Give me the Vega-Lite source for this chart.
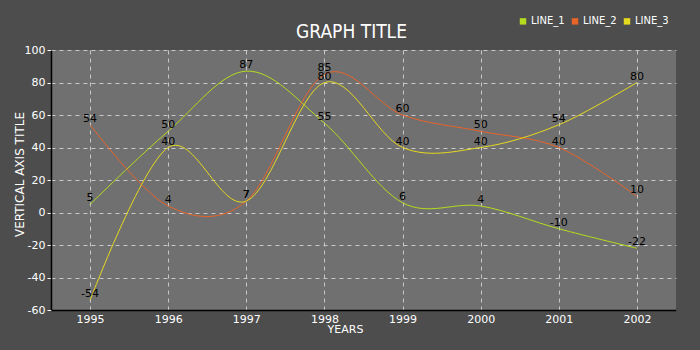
{
  "$schema": "https://vega.github.io/schema/vega-lite/v6.json",
  "autosize": "none",
  "width": 625,
  "height": 260,
  "padding": {"left": 51, "top": 50, "right": 24, "bottom": 40},
  "background": "#4d4d4d",
  "title": {
    "text": "GRAPH TITLE",
    "color": "#ffffff",
    "font": "DejaVu Sans Condensed, DejaVu Sans",
    "fontSize": 19,
    "fontWeight": "normal",
    "offset": 16,
    "dx": -12,
    "dy": 42
  },
  "data": {
    "values": [
      {"year": 1995, "series": "LINE_1", "value": 5},
      {"year": 1996, "series": "LINE_1", "value": 50},
      {"year": 1997, "series": "LINE_1", "value": 87},
      {"year": 1998, "series": "LINE_1", "value": 55},
      {"year": 1999, "series": "LINE_1", "value": 6},
      {"year": 2000, "series": "LINE_1", "value": 4},
      {"year": 2001, "series": "LINE_1", "value": -10},
      {"year": 2002, "series": "LINE_1", "value": -22},
      {"year": 1995, "series": "LINE_2", "value": 54},
      {"year": 1996, "series": "LINE_2", "value": 4},
      {"year": 1997, "series": "LINE_2", "value": 7},
      {"year": 1998, "series": "LINE_2", "value": 85},
      {"year": 1999, "series": "LINE_2", "value": 60},
      {"year": 2000, "series": "LINE_2", "value": 50},
      {"year": 2001, "series": "LINE_2", "value": 40},
      {"year": 2002, "series": "LINE_2", "value": 10},
      {"year": 1995, "series": "LINE_3", "value": -54},
      {"year": 1996, "series": "LINE_3", "value": 40},
      {"year": 1997, "series": "LINE_3", "value": 7},
      {"year": 1998, "series": "LINE_3", "value": 80},
      {"year": 1999, "series": "LINE_3", "value": 40},
      {"year": 2000, "series": "LINE_3", "value": 40},
      {"year": 2001, "series": "LINE_3", "value": 54},
      {"year": 2002, "series": "LINE_3", "value": 80}
    ]
  },
  "encoding": {
    "x": {
      "field": "year",
      "type": "quantitative",
      "scale": {"domain": [1994.5, 2002.5], "nice": false, "zero": false},
      "axis": {
        "title": "YEARS",
        "values": [1995, 1996, 1997, 1998, 1999, 2000, 2001, 2002],
        "format": "d",
        "ticks": false,
        "labelPadding": 3,
        "titleX": 294,
        "titleY": 22,
        "titleAlign": "center",
        "titleBaseline": "alphabetic"
      }
    },
    "y": {
      "field": "value",
      "type": "quantitative",
      "scale": {"domain": [-60, 100], "nice": false},
      "axis": {
        "title": "VERTICAL AXIS TITLE",
        "values": [-60, -40, -20, 0, 20, 40, 60, 80, 100],
        "labelExpr": "'' + datum.value",
        "ticks": true,
        "tickSize": 4,
        "tickColor": "#ffffff",
        "labelPadding": 2,
        "titleX": -32,
        "titleY": 124,
        "titleAngle": -90,
        "titleAlign": "center",
        "titleBaseline": "middle",
        "titleFontSize": 12
      }
    },
    "color": {
      "field": "series",
      "type": "nominal",
      "scale": {
        "domain": ["LINE_1", "LINE_2", "LINE_3"],
        "range": ["#b4dc1e", "#e8642a", "#e6da1e"]
      },
      "legend": {
        "title": null,
        "orient": "none",
        "legendX": 467,
        "legendY": -34,
        "direction": "horizontal",
        "symbolType": "square",
        "symbolSize": 6,
        "symbolStrokeWidth": 4,
        "symbolOpacity": 1,
        "labelColor": "#ffffff",
        "labelFont": "DejaVu Sans",
        "labelFontSize": 10,
        "columnPadding": 0,
        "labelOffset": 3
      }
    }
  },
  "layer": [
    {
      "mark": {"type": "line", "interpolate": "cardinal", "strokeWidth": 1}
    },
    {
      "mark": {
        "type": "text",
        "color": "#000000",
        "font": "DejaVu Sans",
        "fontSize": 11,
        "baseline": "middle",
        "dy": -6
      },
      "encoding": {
        "text": {"field": "value", "type": "nominal"},
        "color": {"value": "#000000"}
      }
    }
  ],
  "config": {
    "view": {"fill": "#707070", "stroke": null},
    "axis": {
      "domainColor": "#000000",
      "domainWidth": 1.5,
      "grid": true,
      "gridColor": "#c8c8c8",
      "gridDash": [4, 4],
      "gridWidth": 1,
      "labelColor": "#ffffff",
      "labelFont": "DejaVu Sans",
      "labelFontSize": 11,
      "titleColor": "#ffffff",
      "titleFont": "DejaVu Sans",
      "titleFontSize": 11,
      "titleFontWeight": "normal"
    }
  }
}
